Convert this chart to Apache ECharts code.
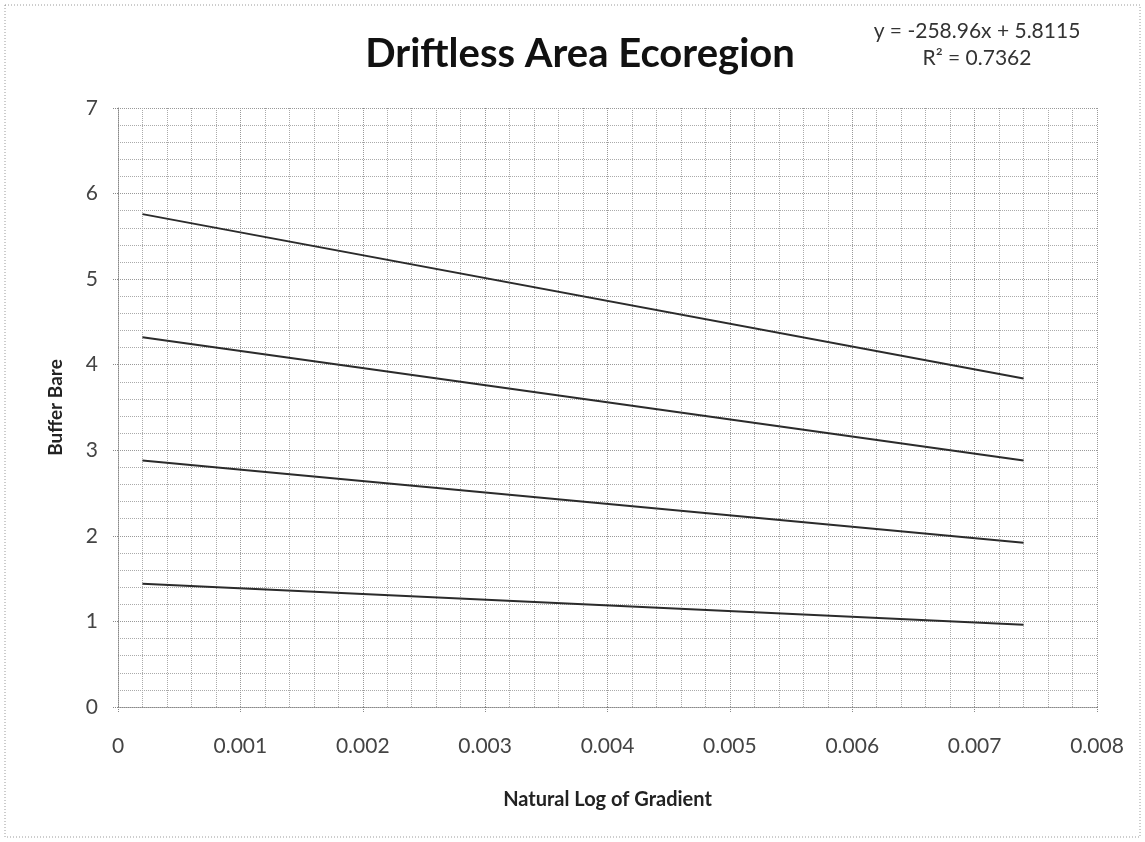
<!DOCTYPE html>
<html>
<head>
<meta charset="utf-8">
<script src="https://cdn.jsdelivr.net/npm/echarts@6/dist/echarts.min.js"></script>
<style>
  html, body { margin: 0; padding: 0; background: #fff; }
  #chart { width: 1145px; height: 842px; }
</style>
</head>
<body>
<div id="chart"></div>
<script>
// values
var xPoints = [0.0002, 0.0074];
var line100 = [5.76, 3.84];
var line75 = [4.32, 2.88];
var line50 = [2.88, 1.92];
var line25 = [1.44, 0.96];
var titleText = 'Driftless Area Ecoregion';
var eqLine1 = 'y = -258.96x + 5.8115';
var eqLine2 = 'R² = 0.7362';
var xName = 'Natural Log of Gradient';
var yName = 'Buffer Bare';

function pairs(ys) {
    return ys.map(function (y, i) { return [xPoints[i], y]; });
}

var myChart = echarts.init(document.getElementById('chart'));

var lineStyle = { color: '#2b2b2b', width: 2 };
function mkSeries(name, ys) {
    return {
        name: name,
        type: 'line',
        data: pairs(ys),
        showSymbol: false,
        symbol: 'none',
        lineStyle: lineStyle,
        silent: true
    };
}

var option = {
    backgroundColor: '#fff',
    animation: false,
    textStyle: { fontFamily: 'Lato' },
    grid: { left: 118, right: 48, top: 108, bottom: 135 },
    graphic: [
        {
            type: 'rect',
            shape: { x: 5, y: 5, width: 1135, height: 832 },
            style: { fill: 'none', stroke: '#9a9a9a', lineWidth: 1, lineDash: [1, 2] },
            silent: true
        },
        {
            type: 'text', x: 580, y: 54,
            style: {
                text: titleText, textAlign: 'center', textVerticalAlign: 'middle',
                font: 'bold 40px Lato', fill: '#111'
            }
        },
        {
            type: 'text', x: 977, y: 31,
            style: {
                text: eqLine1, textAlign: 'center', textVerticalAlign: 'middle',
                font: '21px Lato', fill: '#333'
            }
        },
        {
            type: 'text', x: 977, y: 58,
            style: {
                text: eqLine2, textAlign: 'center', textVerticalAlign: 'middle',
                font: '21px Lato', fill: '#333'
            }
        }
    ],
    xAxis: {
        type: 'value',
        min: 0,
        max: 0.008,
        interval: 0.001,
        name: xName,
        nameLocation: 'middle',
        nameGap: 83,
        nameTextStyle: { fontSize: 20, fontWeight: 'bold', color: '#222', fontFamily: 'Lato' },
        axisLine: { show: true, lineStyle: { color: '#888', type: 'dotted' } },
        axisTick: { show: true, length: 6, lineStyle: { color: '#888', type: 'dotted' } },
        axisLabel: {
            margin: 29, fontSize: 21, color: '#444',
            formatter: function (v) { return v === 0 ? '0' : v.toFixed(3); }
        },
        splitLine: { show: true, lineStyle: { color: '#999', type: 'dotted' } },
        minorTick: { show: false, splitNumber: 5 },
        minorSplitLine: { show: true, lineStyle: { color: '#aaa', type: 'dotted' } }
    },
    yAxis: {
        type: 'value',
        min: 0,
        max: 7,
        interval: 1,
        name: yName,
        nameLocation: 'middle',
        nameGap: 53,
        nameRotate: 90,
        nameTextStyle: { fontSize: 19, fontWeight: 'bold', color: '#222', fontFamily: 'Lato' },
        axisLine: { show: true, lineStyle: { color: '#888', type: 'dotted' } },
        axisTick: { show: true, length: 6, lineStyle: { color: '#888', type: 'dotted' } },
        axisLabel: { margin: 20, fontSize: 21, color: '#444' },
        splitLine: { show: true, lineStyle: { color: '#999', type: 'dotted' } },
        minorTick: { show: false, splitNumber: 5 },
        minorSplitLine: { show: true, lineStyle: { color: '#aaa', type: 'dotted' } }
    },
    series: [
        mkSeries('100%', line100),
        mkSeries('75%', line75),
        mkSeries('50%', line50),
        mkSeries('25%', line25)
    ]
};

myChart.setOption(option);
window.addEventListener('resize', function () { myChart.resize(); });
</script>
</body>
</html>
